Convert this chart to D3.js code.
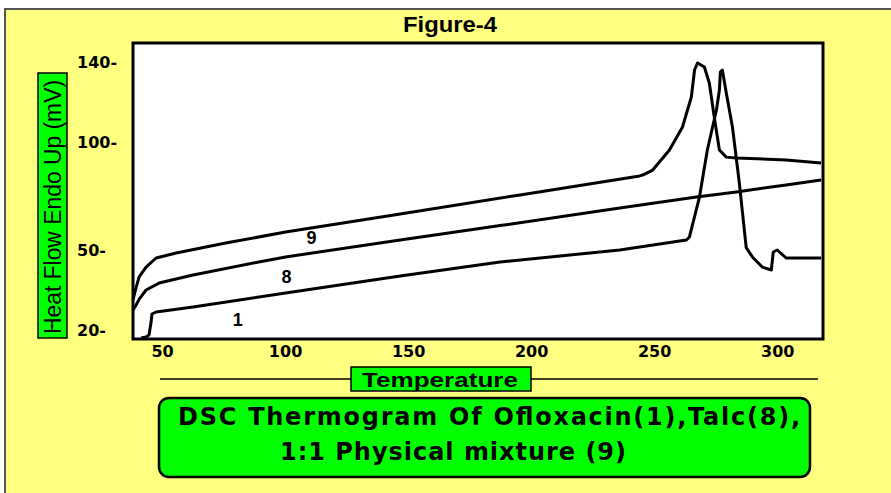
<!DOCTYPE html>
<html>
<head>
<meta charset="utf-8">
<script src="https://cdn.jsdelivr.net/npm/d3@7"></script>
<style>
  body { margin: 0; background: #fff; }
  svg { display: block; }
  .tick-lbl { font-family: "DejaVu Sans", sans-serif; font-weight: bold; font-size: 16px; fill: #000; }
</style>
</head>
<body>
<div id="chart"></div>
<script>
// temperature (x) and heat flow (y)
const ofloxacinT = [41.5, 43.5, 44.7, 45.5, 45.9, 47.6, 62.6, 100.2, 146.8, 187.4, 236, 263.1, 264.3, 268.4, 271.6, 275.3, 276.5, 276.9, 277.7, 279.3, 281.8, 284.6, 287.4, 289.9, 293.9, 297.6, 298.4, 300, 303.6, 317.8];
const ofloxacinV = [17, 17.4, 18.1, 22.6, 26, 26.75, 28.6, 33.9, 40.25, 45.5, 50, 54.6, 56, 74.5, 96.3, 116, 126, 135, 136, 124.5, 107.5, 81, 51.1, 47.4, 43.6, 42.5, 49.25, 50, 47, 47];

const talcT = [38.2, 39.5, 40.7, 43.5, 48.8, 62.6, 89.3, 100.2, 146.8, 187.4, 236, 267.2, 283.4, 303.6, 317.8];
const talcV = [27.5, 29.4, 31.6, 35, 37.6, 40.6, 45.5, 47.4, 54.6, 61.3, 69.4, 74.5, 76.9, 80.1, 82.4];

const mixT = [38.2, 39.5, 40.7, 43.5, 47.6, 55.7, 75.9, 100.2, 146.8, 195.5, 244.1, 245.3, 249.4, 256.2, 261.5, 265.1, 266.4, 267.6, 270.4, 272.4, 274.4, 276.5, 279.3, 283.4, 303.6, 317.8];
const mixV = [31.25, 36.1, 39.9, 43.6, 47, 48.9, 53.2, 58.3, 66.7, 75.5, 84.3, 84.7, 87, 96.3, 107.5, 122.5, 136, 139.5, 137.5, 129.5, 112.5, 96.3, 93, 92.6, 91.7, 90.3];

const curveLabels = ["1", "8", "9"];
const curveLabelT = [80.8, 100.6, 110.7];
const curveLabelV = [23.75, 39.9, 55.6];

const xTicks = [50, 100, 150, 200, 250, 300];
const yTicks = [20, 50, 100, 140];

const W = 891, H = 493;
const svg = d3.select("#chart").append("svg").attr("width", W).attr("height", H);

// panel background
svg.append("rect").attr("x", 0).attr("y", 0).attr("width", W).attr("height", H).attr("fill", "#fff");
svg.append("rect").attr("x", 5).attr("y", 9).attr("width", W).attr("height", H)
  .attr("fill", "#ffff80").attr("stroke", "#555").attr("stroke-width", 2);

const plot = { left: 133, top: 43, right: 823, bottom: 339 };

const x = d3.scaleLinear().domain([38.2, 318.6]).range([plot.left, plot.right]);
// the printed y ticks are unevenly spaced, so piecewise scale
const y = d3.scaleLinear().domain([16.25, 20, 50, 100, 140, 150]).range([340, 330, 250, 142, 62, 42]);

svg.append("rect")
  .attr("x", plot.left).attr("y", plot.top)
  .attr("width", plot.right - plot.left).attr("height", plot.bottom - plot.top)
  .attr("fill", "#fff").attr("stroke", "#000").attr("stroke-width", 3);

// condensed look: squeeze text into the measured widths
function narrowText(sel, size, len) {
  return sel.attr("font-family", "Liberation Sans, Arial, sans-serif")
    .attr("font-size", size)
    .attr("textLength", len)
    .attr("lengthAdjust", "spacingAndGlyphs");
}

narrowText(svg.append("text"), 22, 94)
  .attr("x", 403).attr("y", 32).attr("font-weight", "bold").text("Figure-4");

// x axis labels
const xAxis = d3.axisBottom(x).tickValues(xTicks).tickSize(0).tickPadding(0);
const xAxisG = svg.append("g").attr("transform", "translate(0,346)").call(xAxis);
xAxisG.select(".domain").remove();
xAxisG.selectAll("text").attr("class", "tick-lbl").attr("dy", "0.71em");

// y labels, left aligned with dash
svg.selectAll(".ylbl").data(yTicks).enter().append("text")
  .attr("class", "tick-lbl")
  .attr("x", 77).attr("y", d => y(d)).attr("dy", "0.35em")
  .text(d => d + "-");

// y title box
svg.append("rect").attr("x", 38).attr("y", 73).attr("width", 29).attr("height", 265)
  .attr("fill", "#00ff00").attr("stroke", "#000").attr("stroke-width", 1.5);
narrowText(svg.append("text"), 23, 254)
  .attr("transform", "translate(61,334) rotate(-90)")
  .text("Heat Flow Endo Up (mV)");

// x title line and box
svg.append("line").attr("x1", 160).attr("x2", 818).attr("y1", 379).attr("y2", 379)
  .attr("stroke", "#000").attr("stroke-width", 1.5);
svg.append("rect").attr("x", 351).attr("y", 367).attr("width", 180).attr("height", 24)
  .attr("fill", "#00ff00").attr("stroke", "#000").attr("stroke-width", 1.5);
narrowText(svg.append("text"), 21, 156)
  .attr("x", 362).attr("y", 387).attr("font-weight", "bold").text("Temperature");

// caption box
svg.append("rect").attr("x", 159).attr("y", 398).attr("width", 651).attr("height", 79)
  .attr("rx", 10).attr("ry", 10)
  .attr("fill", "#00ff00").attr("stroke", "#000").attr("stroke-width", 2.5);
svg.append("text")
  .attr("x", 178).attr("y", 425)
  .attr("font-family", "DejaVu Sans, sans-serif").attr("font-weight", "bold").attr("font-size", 24)
  .attr("textLength", 622).attr("lengthAdjust", "spacing")
  .text("DSC Thermogram Of Ofloxacin(1),Talc(8),");
svg.append("text")
  .attr("x", 280).attr("y", 460)
  .attr("font-family", "DejaVu Sans, sans-serif").attr("font-weight", "bold").attr("font-size", 24)
  .attr("textLength", 346).attr("lengthAdjust", "spacing")
  .text("1:1 Physical mixture (9)");

// curves
const line = d3.line().x(d => x(d[0])).y(d => y(d[1]));
const series = [
  d3.zip(ofloxacinT, ofloxacinV),
  d3.zip(talcT, talcV),
  d3.zip(mixT, mixV)
];
svg.append("g").selectAll("path").data(series).enter().append("path")
  .attr("d", line)
  .attr("fill", "none").attr("stroke", "#000").attr("stroke-width", 3)
  .attr("stroke-linejoin", "round");

svg.selectAll(".clbl").data(curveLabels).enter().append("text")
  .attr("font-family", "Liberation Sans, Arial, sans-serif")
  .attr("font-weight", "bold")
  .attr("font-size", 18)
  .attr("text-anchor", "middle")
  .attr("x", (d, i) => x(curveLabelT[i]))
  .attr("y", (d, i) => y(curveLabelV[i]))
  .attr("dy", "0.35em")
  .text(d => d);
</script>
</body>
</html>
